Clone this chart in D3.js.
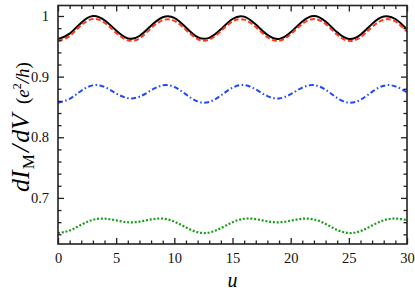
<!DOCTYPE html>
<html>
<head>
<meta charset="utf-8">
<script src="https://cdn.jsdelivr.net/npm/d3@7"></script>
<style>
  body { margin: 0; background: white; }
  svg { display: block; }
</style>
</head>
<body>
<div id="chart"></div>
<script>
const u_values = d3.range(0, 31);
const black_solid = [0.962, 0.971, 0.989, 1.000, 0.993, 0.976, 0.963, 0.967, 0.984, 0.998, 0.997,
  0.981, 0.965, 0.964, 0.978, 0.995, 0.999, 0.986, 0.969, 0.962, 0.973,
  0.991, 1.000, 0.991, 0.973, 0.962, 0.969, 0.987, 0.999, 0.995, 0.978];
const red_dashed = [0.959, 0.967, 0.985, 0.995, 0.989, 0.972, 0.960, 0.963, 0.980, 0.993, 0.992,
  0.977, 0.962, 0.961, 0.975, 0.991, 0.994, 0.982, 0.965, 0.959, 0.970,
  0.987, 0.995, 0.987, 0.969, 0.959, 0.965, 0.982, 0.994, 0.991, 0.974];
const blue_dashdot = [0.857, 0.8633, 0.8767, 0.8856, 0.8830, 0.8724, 0.8645, 0.8669, 0.8774, 0.8856, 0.8830,
  0.8707, 0.8591, 0.8583, 0.8689, 0.8817, 0.8860, 0.8789, 0.8680, 0.8641, 0.8710,
  0.8819, 0.8860, 0.8784, 0.8649, 0.8571, 0.8618, 0.8749, 0.8850, 0.8840, 0.8739];
const green_dotted = [0.6420, 0.6462, 0.6558, 0.6639, 0.6659, 0.6629, 0.6599, 0.6608, 0.6645, 0.6659, 0.6610,
  0.6514, 0.6434, 0.6429, 0.6501, 0.6599, 0.6656, 0.6650, 0.6613, 0.6598, 0.6624,
  0.6657, 0.6646, 0.6571, 0.6473, 0.6421, 0.6453, 0.6545, 0.6631, 0.6660, 0.6634];

const x_ticks = [0, 5, 10, 15, 20, 25, 30];
const y_ticks = [0.7, 0.8, 0.9, 1];

const series = [
  {values: black_solid, color: "#000000", dash: null, width: 2},
  {values: red_dashed, color: "#ff3a1c", dash: "5,2.5", width: 2},
  {values: blue_dashdot, color: "#1f48ff", dash: "5,2.5,1.5,2.5", width: 2},
  {values: green_dotted, color: "#14a014", dash: "2,1.8", width: 2.2}
];

const serif = "Liberation Serif";
const width = 415, height = 293;
const margin = {left: 58, right: 8, top: 5.5, bottom: 49};

const svg = d3.select("#chart").append("svg")
  .attr("width", width)
  .attr("height", height)
  .attr("font-family", serif);

const x = d3.scaleLinear().domain([0, 30]).range([margin.left, width - margin.right]);
const y = d3.scaleLinear().domain([0.624, 1.0173]).range([height - margin.bottom, margin.top]);

const line = d3.line().curve(d3.curveNatural);

// curves, clipped to the frame
svg.append("clipPath").attr("id", "clip")
  .append("rect")
  .attr("x", x(0)).attr("y", y(1.0173))
  .attr("width", x(30) - x(0)).attr("height", y(0.624) - y(1.0173));

const plot = svg.append("g").attr("clip-path", "url(#clip)");
series.forEach(s => {
  plot.append("path")
    .attr("d", line(u_values.map((u, i) => [x(u), y(s.values[i])])))
    .attr("fill", "none")
    .attr("stroke", s.color)
    .attr("stroke-width", s.width)
    .attr("stroke-dasharray", s.dash);
});

// axes, ticks pointing inward on all four sides
const major = 6, minor = 3.5;
const x_minor = d3.range(0, 31, 1).filter(d => d % 5 !== 0);
const y_minor = d3.range(0.64, 1.01, 0.02).filter(d => Math.abs(d * 10 - Math.round(d * 10)) > 1e-6);

function axes(g) {
  g.append("g").attr("transform", `translate(0,${y.range()[0]})`)
    .call(d3.axisBottom(x).tickValues(x_ticks).tickSize(-major).tickPadding(9).tickFormat(d3.format("d")));
  g.append("g").attr("transform", `translate(0,${y.range()[0]})`)
    .call(d3.axisBottom(x).tickValues(x_minor).tickSize(-minor).tickFormat(""));
  g.append("g").attr("transform", `translate(0,${y.range()[1]})`)
    .call(d3.axisTop(x).tickValues(x_ticks).tickSize(-major).tickFormat(""));
  g.append("g").attr("transform", `translate(0,${y.range()[1]})`)
    .call(d3.axisTop(x).tickValues(x_minor).tickSize(-minor).tickFormat(""));
  g.append("g").attr("transform", `translate(${x.range()[0]},0)`)
    .call(d3.axisLeft(y).tickValues(y_ticks).tickSize(-major).tickPadding(9).tickFormat(d => d === 1 ? "1" : d3.format(".1f")(d)));
  g.append("g").attr("transform", `translate(${x.range()[0]},0)`)
    .call(d3.axisLeft(y).tickValues(y_minor).tickSize(-minor).tickFormat(""));
  g.append("g").attr("transform", `translate(${x.range()[1]},0)`)
    .call(d3.axisRight(y).tickValues(y_ticks).tickSize(-major).tickFormat(""));
  g.append("g").attr("transform", `translate(${x.range()[1]},0)`)
    .call(d3.axisRight(y).tickValues(y_minor).tickSize(-minor).tickFormat(""));
  g.selectAll(".domain").remove();
  g.selectAll("g").attr("font-family", serif);
  g.selectAll(".tick line").attr("stroke", "#222").attr("stroke-width", 1.3);
  g.selectAll(".tick text").attr("font-size", 14.5).attr("fill", "#111");
}
svg.append("g").call(axes);

svg.append("rect")
  .attr("x", x(0)).attr("y", y(1.0173))
  .attr("width", x(30) - x(0)).attr("height", y(0.624) - y(1.0173))
  .attr("fill", "none")
  .attr("stroke", "#222")
  .attr("stroke-width", 1.6);

// axis labels
svg.append("text")
  .attr("x", (x(0) + x(30)) / 2)
  .attr("y", 287)
  .attr("text-anchor", "middle")
  .attr("font-style", "italic")
  .attr("font-size", 20)
  .text("u");

const ylab = svg.append("text")
  .attr("transform", "translate(28.5,127) rotate(-90)")
  .attr("text-anchor", "middle")
  .attr("font-size", 26);
ylab.append("tspan").attr("font-style", "italic").text("dI");
ylab.append("tspan").attr("font-size", 17).attr("dx", 1).attr("dy", 5).text("M");
ylab.append("tspan").attr("font-style", "italic").attr("dx", 2).attr("dy", -5).text("/");
ylab.append("tspan").attr("font-style", "italic").attr("dx", 2).text("dV");
ylab.append("tspan").attr("font-size", 19).attr("dx", 10).text("(");
ylab.append("tspan").attr("font-size", 19).attr("font-style", "italic").text("e");
ylab.append("tspan").attr("font-size", 12).attr("dy", -8).text("2");
ylab.append("tspan").attr("font-size", 19).attr("font-style", "italic").attr("dy", 8).text("/h");
ylab.append("tspan").attr("font-size", 19).text(")");
</script>
</body>
</html>
